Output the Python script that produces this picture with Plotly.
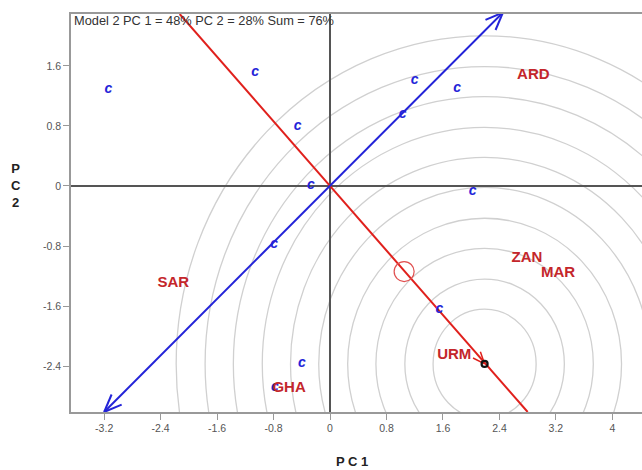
import math
import plotly.graph_objects as go

# ---- data ----
gen_x = [-3.14, -1.06, -0.46, -0.27, -0.79, 1.20, 1.80, 1.03, 2.02, 1.55, -0.40, -0.78]
gen_y = [1.29, 1.51, 0.79, 0.00, -0.78, 1.40, 1.30, 0.95, -0.07, -1.64, -2.36, -2.69]
gen_labels = ["c"] * len(gen_x)

env_names = ["ARD", "ZAN", "MAR", "SAR", "GHA", "URM"]
env_x = [2.88, 2.79, 3.23, -2.22, -0.58, 1.76]
env_y = [1.48, -0.96, -1.16, -1.29, -2.70, -2.25]

aea_x = [-2.13, 2.80]          # average-environment axis (red line ends)
aea_y = [2.29, -3.01]
mean_env_x = [2.19]            # mean environment point (arrow tip)
mean_env_y = [-2.37]
ideal_x = [1.05]               # small red circle
ideal_y = [-1.14]
ata_tip_x = [2.45, -3.20]      # blue axis arrow tips
ata_tip_y = [2.31, -3.01]
circle_radii = [0.73, 1.13, 1.54, 1.94, 2.35, 2.75, 3.15, 3.56, 3.96, 4.37]

xtick_vals = [-3.2, -2.4, -1.6, -0.8, 0, 0.8, 1.6, 2.4, 3.2, 4]
xtick_text = ["-3.2", "-2.4", "-1.6", "-0.8", "0", "0.8", "1.6", "2.4", "3.2", "4"]
ytick_vals = [-2.4, -1.6, -0.8, 0, 0.8, 1.6]
ytick_text = ["-2.4", "-1.6", "-0.8", "0", "0.8", "1.6"]

title_text = "Model 2 PC 1 = 48% PC 2 = 28% Sum = 76%"

FONT = "Liberation Sans, Arial, sans-serif"
RED_LINE = "#e0201c"
RED_TXT = "#c4262b"
BLUE = "#2323d8"

W, H = 642, 470
M = dict(l=71, r=0, t=14, b=58)
XR = [-3.67, 4.42]
YR = [-3.01, 2.29]
PX_X = (W - M["l"] - M["r"]) / (XR[1] - XR[0])   # pixels per x unit
PX_Y = (H - M["t"] - M["b"]) / (YR[1] - YR[0])   # pixels per y unit


def v_head(tip_x, tip_y, tail_x, tail_y, length_px, angle_deg):
    """Open V arrow head at tip, pointing away from tail (pixel-true)."""
    dx = (tip_x - tail_x) * PX_X
    dy = (tip_y - tail_y) * PX_Y
    ang = math.atan2(dy, dx)
    xs, ys = [], []
    for s in (1, -1):
        a = ang + math.pi + s * math.radians(angle_deg)
        xs += [tip_x + length_px * math.cos(a) / PX_X, tip_x, None]
        ys += [tip_y + length_px * math.sin(a) / PX_Y, tip_y, None]
    return xs, ys


fig = go.Figure()

# concentric circles around the mean environment point
for r in circle_radii:
    fig.add_shape(type="circle", xref="x", yref="y",
                  x0=mean_env_x[0] - r, x1=mean_env_x[0] + r,
                  y0=mean_env_y[0] - r, y1=mean_env_y[0] + r,
                  line=dict(color="#d0d0d0", width=1.3), layer="below")

# red average environment axis
fig.add_trace(go.Scatter(x=aea_x, y=aea_y, mode="lines",
                         line=dict(color=RED_LINE, width=2), hoverinfo="skip",
                         showlegend=False))
hx, hy = v_head(mean_env_x[0], mean_env_y[0], 0, 0, 13, 22)
fig.add_trace(go.Scatter(x=hx, y=hy, mode="lines",
                         line=dict(color=RED_LINE, width=1.5), hoverinfo="skip",
                         showlegend=False))

# blue axis with arrows on both ends
fig.add_trace(go.Scatter(x=ata_tip_x, y=ata_tip_y, mode="lines",
                         line=dict(color=BLUE, width=2), hoverinfo="skip",
                         showlegend=False))
for tx, ty in zip(ata_tip_x, ata_tip_y):
    hx, hy = v_head(tx, ty, 0, 0, 19, 22)
    fig.add_trace(go.Scatter(x=hx, y=hy, mode="lines",
                             line=dict(color=BLUE, width=2), hoverinfo="skip",
                             showlegend=False, cliponaxis=False))

# ideal point circle
fig.add_trace(go.Scatter(x=ideal_x, y=ideal_y, mode="markers",
                         marker=dict(symbol="circle-open", size=20,
                                     line=dict(color="#e05050", width=1.2),
                                     color="#e05050"),
                         showlegend=False, hoverinfo="skip"))

# genotypes
fig.add_trace(go.Scatter(x=gen_x, y=gen_y, mode="text", text=gen_labels,
                         textfont=dict(family=FONT, size=14, color=BLUE,
                                       weight="bold", style="italic"),
                         showlegend=False, hoverinfo="skip"))

# environments
fig.add_trace(go.Scatter(x=env_x, y=env_y, mode="text", text=env_names,
                         textfont=dict(family=FONT, size=15, color=RED_TXT,
                                       weight="bold"),
                         showlegend=False, hoverinfo="skip"))

# mean environment point
fig.add_trace(go.Scatter(x=mean_env_x, y=mean_env_y, mode="markers",
                         marker=dict(symbol="circle-open", size=6,
                                     line=dict(color="#111111", width=2.2),
                                     color="#111111"),
                         showlegend=False, hoverinfo="skip"))

# title inside plot
fig.add_annotation(x=0.002, y=1, xref="paper", yref="paper", text=title_text,
                   showarrow=False, xanchor="left", yanchor="top", yshift=3,
                   font=dict(family=FONT, size=12.8, color="#333333"))

# axis titles
fig.add_annotation(x=0.492, y=-0.1256, xref="paper", yref="paper",
                   text="P C 1", showarrow=False, xanchor="center",
                   yanchor="middle",
                   font=dict(family=FONT, size=13, color="#222222", weight="bold"))
fig.add_annotation(x=-0.0963, y=0, xref="paper", yref="y",
                   text="P<br>C<br>2", showarrow=False, xanchor="center",
                   yanchor="middle",
                   font=dict(family=FONT, size=13, color="#222222", weight="bold"))

fig.update_layout(
    width=W, height=H,
    margin=M,
    paper_bgcolor="white", plot_bgcolor="white",
    font=dict(family=FONT, size=11, color="#444444"),
    xaxis=dict(range=XR, tickvals=xtick_vals, ticktext=xtick_text,
               showgrid=False, zeroline=True, zerolinecolor="#555555",
               zerolinewidth=1.5, showline=True, linecolor="#999999",
               linewidth=1.5, mirror=True, ticks="outside", ticklen=6,
               tickcolor="#999999", tickfont=dict(size=10.5, color="#555555")),
    yaxis=dict(range=YR, tickvals=ytick_vals, ticktext=ytick_text,
               showgrid=False, zeroline=True, zerolinecolor="#555555",
               zerolinewidth=1.5, showline=True, linecolor="#999999",
               linewidth=1.5, mirror=False, ticks="outside", ticklen=6,
               tickcolor="#999999", tickfont=dict(size=10.5, color="#555555")),
)

fig.write_html("out.html",
               config={"displayModeBar": False},
               post_script="document.body.style.margin='0';"
                           "document.body.style.overflow='hidden';")
